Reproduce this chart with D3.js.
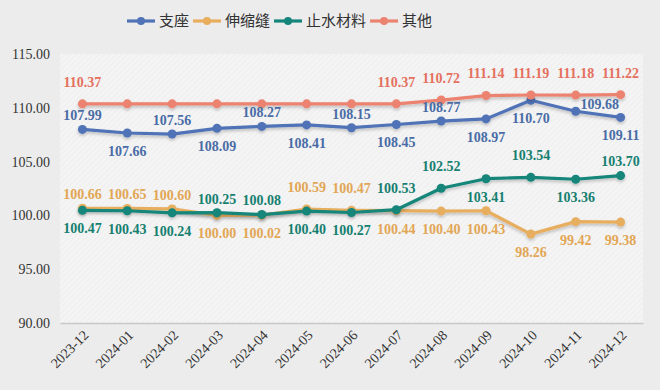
<!DOCTYPE html>
<html>
<head>
<meta charset="utf-8">
<script src="https://cdn.jsdelivr.net/npm/d3@7"></script>
<style>
  html, body { margin: 0; padding: 0; background: #ececec; }
  svg { display: block; }
  .serif { font-family: "Liberation Serif", "Times New Roman", "DejaVu Serif", serif; }
  .cjk { font-family: "Noto Sans CJK SC", "Noto Sans", sans-serif; }
</style>
</head>
<body>
<svg id="chart" width="660" height="390"></svg>
<script>
// ---- data ----
const months = ["2023-12","2024-01","2024-02","2024-03","2024-04","2024-05","2024-06","2024-07","2024-08","2024-09","2024-10","2024-11","2024-12"];
const seriesNames = ["支座","伸缩缝","止水材料","其他"];
const zhizuo   = [107.99,107.66,107.56,108.09,108.27,108.41,108.15,108.45,108.77,108.97,110.70,109.68,109.11];
const shensuofeng = [100.66,100.65,100.60,100.00,100.02,100.59,100.47,100.44,100.40,100.43,98.26,99.42,99.38];
const zhishui  = [100.47,100.43,100.24,100.25,100.08,100.40,100.27,100.53,102.52,103.41,103.54,103.36,103.70];
const qita     = [110.37,110.37,110.37,110.37,110.37,110.37,110.37,110.37,110.72,111.14,111.19,111.18,111.22];
const yTicks = [90,95,100,105,110,115];

// ---- label placement (a: above, A: high above, b: below, r: upper right, "": none) ----
const labelPlace = [
  ["a","b","a","b","a","b","a","b","a","b","b","r","b"],
  ["a","a","a","b","b","A","A","b","b","b","b","b","b"],
  ["b","b","b","a","a","b","b","A","A","b","A","b","a"],
  ["A","","","","","","","A","A","A","A","A","A"]
];

const colors = ["#4f73b6","#e8ae5e","#14857a","#ec8270"];
const labelColors = ["#4a6ca6","#e2a655","#167f70","#e5705e"];

const values = [zhizuo, shensuofeng, zhishui, qita];
const series = seriesNames.map((name, i) => ({
  name, color: colors[i], labelColor: labelColors[i],
  pts: months.map((m, j) => ({ m, v: values[i][j], place: labelPlace[i][j] }))
}));

const svg = d3.select("#chart");
const margin = { left: 60, right: 17, top: 54, bottom: 67 };
const W = 660, H = 390;

const x = d3.scaleBand().domain(months).range([margin.left, W - margin.right]);
const y = d3.scaleLinear().domain([90, 115]).range([H - margin.bottom, margin.top]);
const cx = d => x(d) + x.bandwidth() / 2;

// defs: pattern + shadow
const defs = svg.append("defs");
const pat = defs.append("pattern").attr("id", "hatch").attr("width", 4).attr("height", 4)
  .attr("patternUnits", "userSpaceOnUse").attr("patternTransform", "rotate(45)");
pat.append("rect").attr("width", 4).attr("height", 4).attr("fill", "#f4f4f4");
pat.append("line").attr("x1", 0).attr("y1", 0).attr("x2", 0).attr("y2", 4)
  .attr("stroke", "#ebebeb").attr("stroke-width", 1.2);
const f = defs.append("filter").attr("id", "shadow").attr("x", "-10%").attr("y", "-10%").attr("width", "120%").attr("height", "140%");
f.append("feDropShadow").attr("dx", 0).attr("dy", 2).attr("stdDeviation", 1.5)
  .attr("flood-color", "#000").attr("flood-opacity", 0.22);

// plot background
svg.append("rect")
  .attr("x", margin.left).attr("y", margin.top)
  .attr("width", W - margin.left - margin.right)
  .attr("height", H - margin.top - margin.bottom)
  .attr("fill", "url(#hatch)");

// y axis
const yAxis = svg.append("g")
  .attr("transform", `translate(${margin.left},0)`)
  .call(d3.axisLeft(y).tickValues(yTicks).tickFormat(d3.format(".2f")).tickSize(0).tickPadding(10));
yAxis.attr("font-family", null);
yAxis.select(".domain").remove();
yAxis.selectAll("text").attr("class", "serif")
  .attr("font-size", 14).attr("fill", "#333");

// x axis
const xAxis = svg.append("g")
  .attr("transform", `translate(0,${y(90)})`)
  .call(d3.axisBottom(x).tickSize(0).tickPadding(0));
xAxis.attr("font-family", null);
xAxis.select(".domain").attr("stroke", "#c8c8c8").attr("stroke-width", 1.5);
xAxis.selectAll("text").attr("class", "serif")
  .attr("font-size", 14).attr("fill", "#333")
  .attr("text-anchor", "end").attr("dy", 0)
  .attr("transform", "translate(7,13) rotate(-45)");

// lines
const line = d3.line().x(d => cx(d.m)).y(d => y(d.v));
const gLines = svg.append("g");
series.forEach(s => {
  const g = gLines.append("g").attr("filter", "url(#shadow)");
  g.append("path").datum(s.pts).attr("d", line)
    .attr("fill", "none").attr("stroke", s.color).attr("stroke-width", 3.2)
    .attr("stroke-linejoin", "round").attr("stroke-linecap", "round");
  g.selectAll("circle").data(s.pts).join("circle")
    .attr("cx", d => cx(d.m)).attr("cy", d => y(d.v)).attr("r", 4.5)
    .attr("fill", s.color);
});

// labels
const offs = { a: [0, -14], A: [0, -22], b: [0, 18], r: [24, -7] };
const gLab = svg.append("g");
series.forEach(s => {
  gLab.selectAll(null).data(s.pts.filter(d => d.place)).join("text")
    .attr("class", "serif")
    .attr("x", d => cx(d.m) + offs[d.place][0])
    .attr("y", d => y(d.v) + offs[d.place][1])
    .attr("dy", "0.35em")
    .attr("text-anchor", "middle")
    .attr("font-weight", "bold").attr("font-size", 14)
    .attr("fill", s.labelColor)
    .text(d => d.v.toFixed(2));
});

// legend
const legend = svg.append("g").attr("transform", "translate(0,21)");
let lx = 127;
series.forEach(s => {
  const g = legend.append("g").attr("transform", `translate(${lx},0)`);
  g.append("line").attr("x1", 0).attr("x2", 28).attr("y1", 0).attr("y2", 0)
    .attr("stroke", s.color).attr("stroke-width", 3.2);
  g.append("circle").attr("cx", 14).attr("cy", 0).attr("r", 4).attr("fill", s.color);
  const t = g.append("text").attr("class", "cjk").attr("x", 32).attr("y", 0).attr("dy", "0.35em")
    .attr("font-size", 15).attr("fill", "#333")
    .text(s.name);
  lx += 32 + t.node().getComputedTextLength() + 4;
});
</script>
</body>
</html>
